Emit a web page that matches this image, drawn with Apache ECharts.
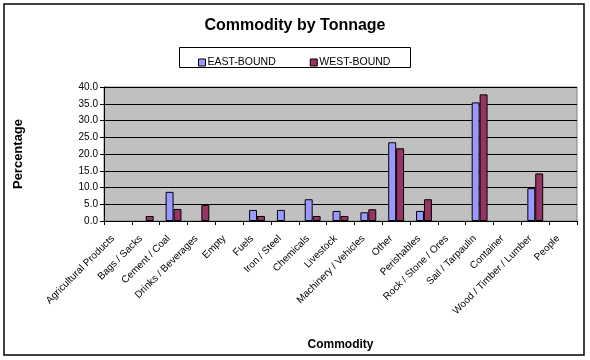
<!DOCTYPE html>
<html><head><meta charset="utf-8">
<script src="https://cdn.jsdelivr.net/npm/echarts@6/dist/echarts.min.js"></script>
<style>html,body{margin:0;padding:0;background:#fff}#c{width:590px;height:360px}</style>
</head><body><div id="c"></div>
<script>
var categories = ["Agricultural Products","Bags / Sacks","Cement / Coal","Drinks / Beverages","Empty","Fuels","Iron / Steel","Chemicals","Livestock","Machinery / Vehicles","Other","Perishables","Rock / Stone / Ores","Sail / Tarpaulin","Container","Wood / Timber / Lumber","People"];
var eastBound = [0, 0, 8.7, 0, 0, 3.3, 3.3, 6.5, 3.0, 2.6, 23.5, 3.0, 0, 35.4, 0, 9.8, 0];
var westBound = [0, 1.5, 3.6, 4.8, 0, 1.5, 0, 1.5, 1.5, 3.5, 21.7, 6.5, 0, 37.8, 0, 14.2, 0];
var yTicks = {min: 0, max: 40, interval: 5};

function barData(values) {
  // zero-height bars are not drawn in the reference (no outline)
  return values.map(function (v) { return v === 0 ? '-' : v; });
}

var font = "'Liberation Sans', Arial, sans-serif";
var chart = echarts.init(document.getElementById('c'), null, {renderer: 'canvas'});
chart.setOption({
  animation: false,
  backgroundColor: '#fff',
  title: {
    text: 'Commodity by Tonnage', left: 'center', top: 13,
    textStyle: {fontFamily: font, fontSize: 16, fontWeight: 'bold', color: '#000'}
  },
  graphic: [
    {type: 'rect', shape: {x: 4, y: 4, width: 580, height: 351}, style: {fill: null, stroke: '#000', lineWidth: 1.5}, z: 100},
    {type: 'rect', shape: {x: 179.5, y: 47.5, width: 231, height: 20}, style: {fill: '#fff', stroke: '#000', lineWidth: 1}, z: 0}
  ],
  legend: {
    left: 193, top: 52, itemGap: 34, itemWidth: 7, itemHeight: 7,
    icon: 'rect',
    itemStyle: {borderColor: '#000', borderWidth: 1},
    textStyle: {fontFamily: font, fontSize: 10.5, color: '#000', padding: [0, 0, 0, -3]},
    data: ['EAST-BOUND', 'WEST-BOUND']
  },
  grid: {left: 104, right: 13, top: 87, bottom: 139, containLabel: false,
    show: true, backgroundColor: '#C0C0C0', borderColor: '#808080', borderWidth: 1},
  xAxis: {
    type: 'category', data: categories,
    name: 'Commodity', nameLocation: 'middle', nameGap: 118,
    nameTextStyle: {fontFamily: font, fontSize: 12, fontWeight: 'bold', color: '#000'},
    axisLine: {lineStyle: {color: '#000', width: 1}},
    axisTick: {show: true, alignWithLabel: false, length: 4, lineStyle: {color: '#000'}},
    axisLabel: {interval: 0, rotate: 45, fontFamily: font, fontSize: 10, color: '#000', margin: 11, padding: [0, 7, 0, 0]},
    splitLine: {show: false}
  },
  yAxis: {
    type: 'value', min: yTicks.min, max: yTicks.max, interval: yTicks.interval,
    name: 'Percentage', nameLocation: 'middle', nameGap: 79, nameRotate: 90,
    nameTextStyle: {fontFamily: font, fontSize: 13, fontWeight: 'bold', color: '#000'},
    axisLine: {show: true, lineStyle: {color: '#000', width: 1}},
    axisTick: {show: true, length: 4, lineStyle: {color: '#000'}},
    axisLabel: {fontFamily: font, fontSize: 10, color: '#000', margin: 6,
      formatter: function (v) { return v.toFixed(1); }},
    splitLine: {show: true, lineStyle: {color: '#000', width: 1}}
  },
  series: [
    {name: 'EAST-BOUND', type: 'bar', data: barData(eastBound), barGap: '0%', barCategoryGap: '43%',
      itemStyle: {color: '#9999FF', borderColor: '#000', borderWidth: 1}},
    {name: 'WEST-BOUND', type: 'bar', data: barData(westBound), barGap: '0%', barCategoryGap: '43%',
      itemStyle: {color: '#993366', borderColor: '#000', borderWidth: 1}}
  ]
});
</script></body></html>
